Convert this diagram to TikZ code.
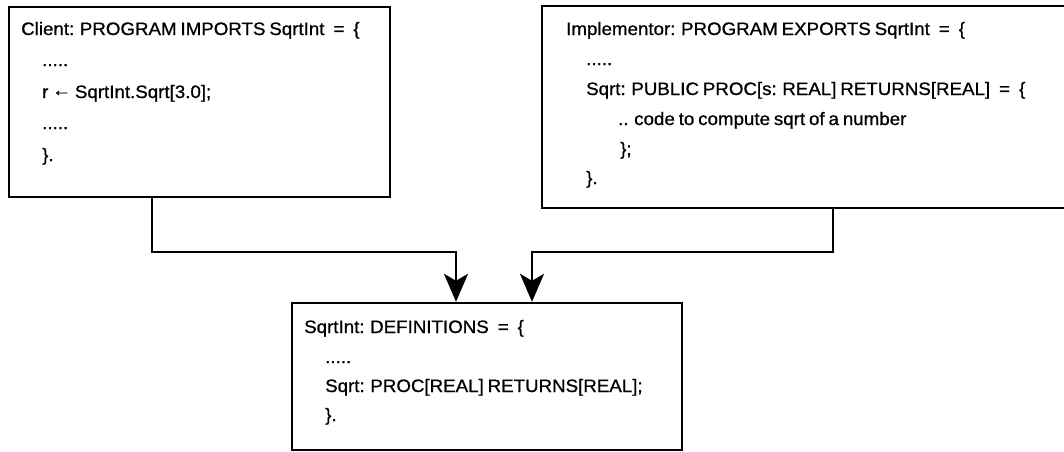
\documentclass[tikz,border=0pt]{standalone}
\usepackage{fontspec}
\setmainfont{Liberation Sans}[FakeStretch=1.04,FakeBold=0.8,WordSpace=0.75]
\usetikzlibrary{arrows.meta}

\begin{document}
\begin{tikzpicture}[x=1pt,y=-1pt,
  box/.style={draw,line width=2.4pt,inner sep=0pt},
  txt/.style={anchor=base west,inner sep=0pt,font=\fontsize{18}{21}\selectfont},
  flow/.style={line width=2.4pt,-{Stealth[length=28pt,width=24pt,inset=7pt]}}]
\useasboundingbox (0,0) rectangle (1064,451);

\node[box,minimum width=381pt,minimum height=190pt] (client) at (199.5,102) {};
\node[box,minimum width=530pt,minimum height=202pt] (impl) at (807,107) {};
\node[box,minimum width=390pt,minimum height=147pt] (defs) at (487,376.5) {};

\node[txt] (c1) at (21,35) {Client: PROGRAM IMPORTS SqrtInt\enspace=\enspace\{};
\node[txt] (c2) at (42,66) {.....};
\node[txt] (c3) at (42,98) {r \raisebox{2pt}{←} SqrtInt.Sqrt[3.0];};
\node[txt] (c4) at (42,129) {.....};
\node[txt] (c5) at (42,161) {\}.};

\node[txt] (i1) at (566,35) {Implementor: PROGRAM EXPORTS SqrtInt\enspace=\enspace\{};
\node[txt] (i2) at (586,65) {.....};
\node[txt] (i3) at (586,95) {Sqrt: PUBLIC PROC[s: REAL] RETURNS[REAL]\enspace=\enspace\{};
\node[txt] (i4) at (618,125) {.. code to compute sqrt of a number};
\node[txt] (i5) at (620,155) {\};};
\node[txt] (i6) at (586,184) {\}.};

\node[txt] (d1) at (304,333) {SqrtInt: DEFINITIONS\enspace=\enspace\{};
\node[txt] (d2) at (325,363) {.....};
\node[txt] (d3) at (325,392) {Sqrt: PROC[REAL] RETURNS[REAL];};
\node[txt] (d4) at (325,421) {\}.};

\draw[flow] ([xshift=-47.5pt]client.south) -- ++(0,54) -| ([xshift=-31pt]defs.north);
\draw[flow] ([xshift=26pt]impl.south) -- ++(0,43) -| ([xshift=45pt]defs.north);
\end{tikzpicture}
\end{document}
